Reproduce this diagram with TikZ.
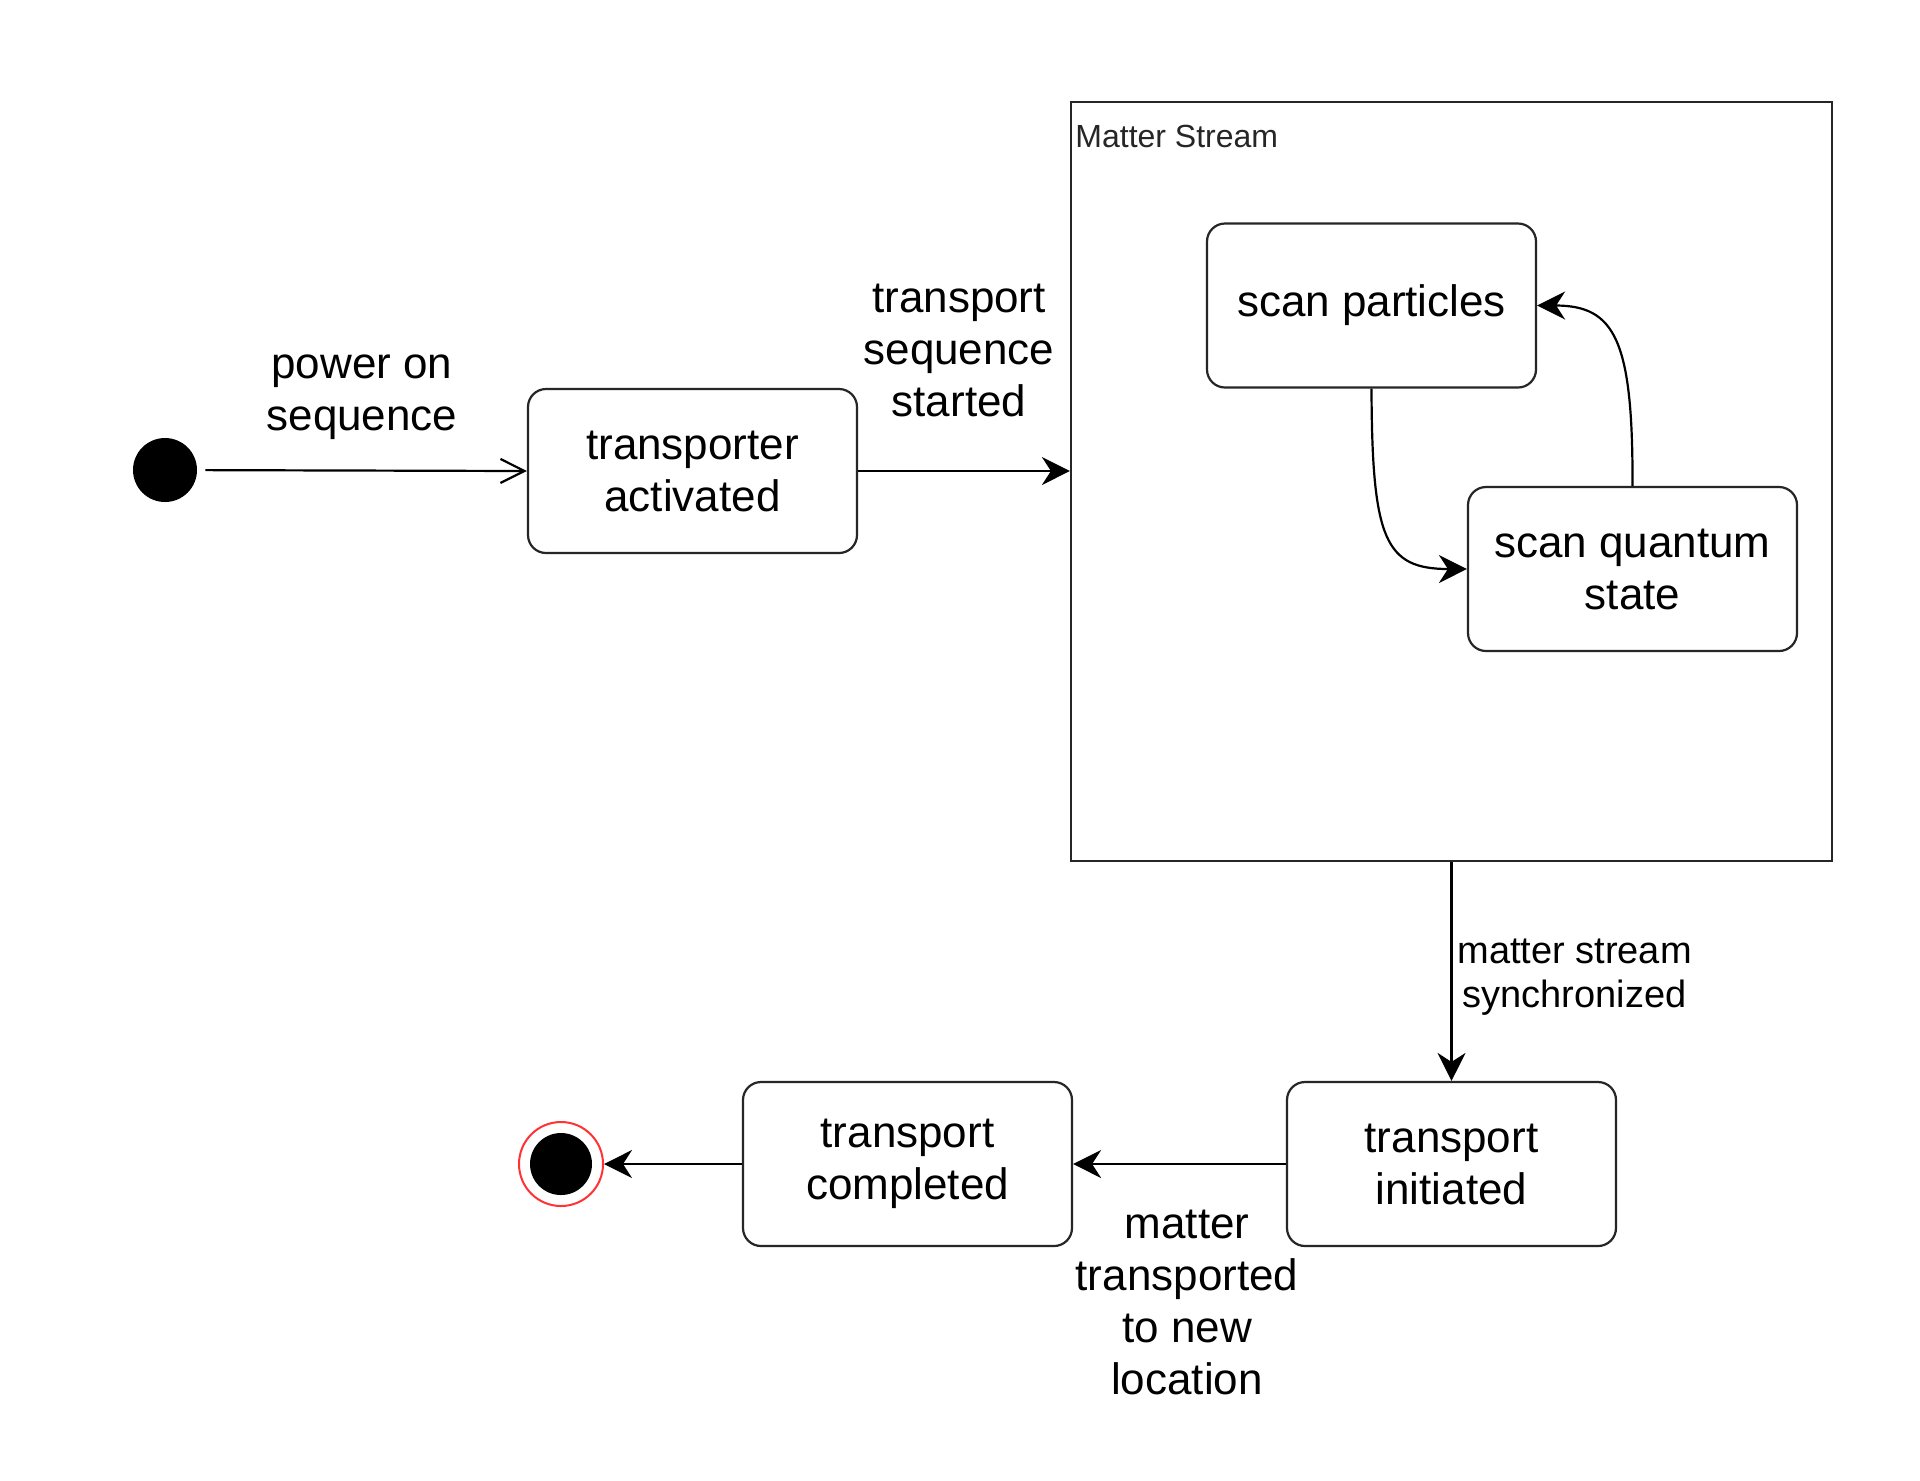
\documentclass[tikz,border=0pt]{standalone}
\usepackage{fontspec}
\setmainfont{Liberation Sans}
\usetikzlibrary{arrows.meta}
\begin{document}
\begin{tikzpicture}[x=0.5pt,y=-0.5pt,
 state/.style={draw=black!85,line width=1.1pt,rounded corners=9pt,minimum width=164.5pt,minimum height=82pt,inner sep=0pt,align=center,font=\fontsize{22}{26}\selectfont},
 lbl/.style={align=center,font=\fontsize{22}{26}\selectfont,inner sep=0pt},
 flow/.style={line width=1.1pt,-{Stealth[length=14pt,width=14pt,inset=4.5pt]}},
]
\fill[white] (0,0) rectangle (1920,1480);
\useasboundingbox (0,0) rectangle (1920,1480);

% container
\node[draw=black!85,line width=1.1pt,minimum width=380.5pt,minimum height=379.5pt,inner sep=0pt] (ms) at (1451.5,481.5) {};
\node[anchor=west,inner sep=0pt,font=\fontsize{16}{19}\selectfont,text=black!85] (mslbl) at (1075,136) {Matter Stream};

% initial
\node[circle,fill=black,minimum size=32pt,inner sep=0pt] (init) at (165,470) {};

% states
\node[state] (ta) at (692.5,471) {transporter\\activated};
\node[state] (sp) at (1371.5,305.5) {scan particles};
\node[state] (sq) at (1632.5,569) {scan quantum\\state};
\node[state] (ti) at (1451.5,1164) {transport\\initiated};
\node[state] (tc) at (907.5,1164) {transport\\completed};

% final
\node[circle,draw=red!80!white,line width=1pt,minimum size=42pt,inner sep=0pt] (fin) at (561,1164) {};
\node[circle,fill=black,minimum size=31pt,inner sep=0pt] (finin) at (fin.center) {};

% connectors
\draw[line width=1.1pt,-{Straight Barb[length=12pt,width=12pt]},shorten <=4pt] (init) -- (ta.west);
\draw[flow] (ta.east) -- (ta.east -| ms.west);
\draw[flow] (sp.south) .. controls (1372,540) and (1385,569) .. (sq.west);
\draw[flow] (sq.north) .. controls (1633,340) and (1615,305.5) .. (sp.east);
\draw[flow] (ms.south) -- (ti.north);
\draw[flow] (ti.west) -- (tc.east);
\draw[flow] (tc.west) -- (fin.east);

% labels
\node[lbl] (l1) at (362,397) {power on\\sequence};
\node[lbl] (l2) at (959,350) {transport\\sequence\\started};
\node[align=center,inner sep=0pt,font=\fontsize{19}{22}\selectfont,anchor=west] (l3) at (1457,977) {matter stream\\synchronized};
\node[lbl] (l4) at (1187,1302) {matter\\transported\\to new\\location};
\end{tikzpicture}
\end{document}
